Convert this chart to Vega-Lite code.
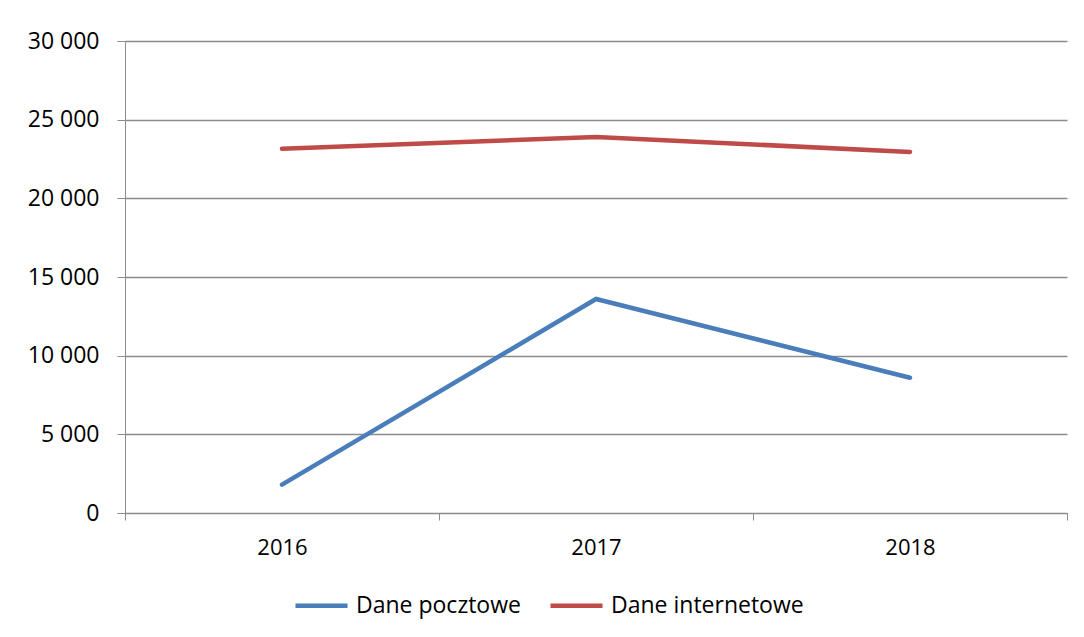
{
  "$schema": "https://vega.github.io/schema/vega-lite/v6.json",
  "width": 942,
  "height": 472,
  "autosize": {"type": "none"},
  "padding": {"left": 125, "top": 41, "right": 17, "bottom": 124},
  "background": "white",
  "data": {
    "values": [
      {"rok": "2016", "seria": "Dane pocztowe", "wartosc": 1800},
      {"rok": "2017", "seria": "Dane pocztowe", "wartosc": 13600},
      {"rok": "2018", "seria": "Dane pocztowe", "wartosc": 8600},
      {"rok": "2016", "seria": "Dane internetowe", "wartosc": 23150},
      {"rok": "2017", "seria": "Dane internetowe", "wartosc": 23900},
      {"rok": "2018", "seria": "Dane internetowe", "wartosc": 22950}
    ]
  },
  "mark": {"type": "line", "strokeWidth": 4.5, "strokeCap": "round", "strokeJoin": "miter"},
  "encoding": {
    "x": {
      "field": "rok",
      "type": "ordinal",
      "scale": {"type": "band", "paddingInner": 0, "paddingOuter": 0},
      "axis": {
        "title": null,
        "labelAngle": 0,
        "tickBand": "extent",
        "grid": false,
        "domainColor": "#8c8c8c",
        "tickColor": "#8c8c8c",
        "tickSize": 7,
        "labelPadding": 17,
        "labelFontSize": 22,
        "labelFont": "Open Sans",
        "labelColor": "#000000"
      }
    },
    "y": {
      "field": "wartosc",
      "type": "quantitative",
      "scale": {"domain": [0, 30000], "nice": false},
      "axis": {
        "title": null,
        "values": [0, 5000, 10000, 15000, 20000, 25000, 30000],
        "labelExpr": "replace(format(datum.value, ',d'), ',', ' ')",
        "grid": true,
        "gridColor": "#8c8c8c",
        "gridWidth": 1.3,
        "domainColor": "#8c8c8c",
        "tickColor": "#8c8c8c",
        "tickSize": 8,
        "labelPadding": 18,
        "labelFontSize": 23,
        "labelFont": "Open Sans",
        "labelColor": "#000000"
      }
    },
    "color": {
      "field": "seria",
      "type": "nominal",
      "scale": {"domain": ["Dane pocztowe", "Dane internetowe"], "range": ["#4a7ebb", "#be4b48"]},
      "legend": {
        "title": null,
        "orient": "none",
        "legendX": 168,
        "legendY": 536,
        "direction": "horizontal",
        "symbolType": "stroke",
        "symbolSize": 2704,
        "symbolStrokeWidth": 4.5,
        "labelFontSize": 23,
        "labelFont": "Open Sans",
        "labelColor": "#000000",
        "labelLimit": 400,
        "labelOffset": 6,
        "columnPadding": 20
      }
    }
  },
  "config": {"view": {"stroke": null}}
}
